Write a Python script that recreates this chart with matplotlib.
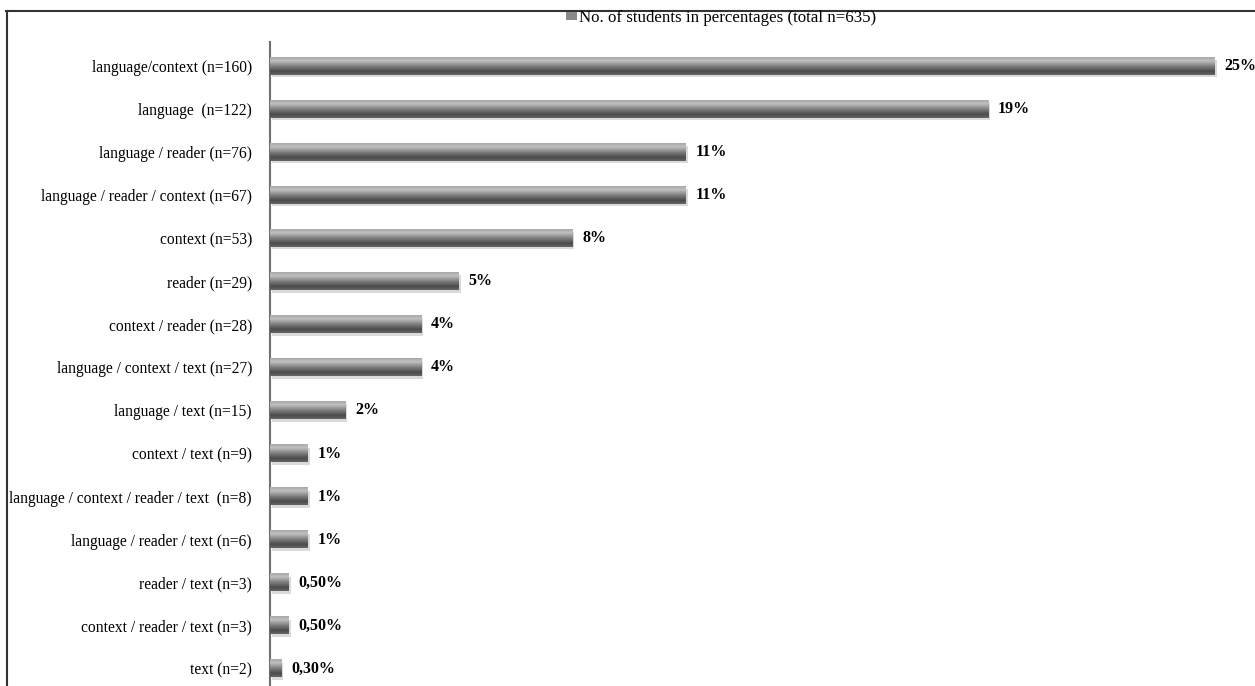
import numpy as np
import matplotlib
matplotlib.use("Agg")
import matplotlib.pyplot as plt
from matplotlib.colors import LinearSegmentedColormap
from matplotlib.lines import Line2D
from matplotlib.patches import Rectangle

categories = [
    "language/context (n=160)",
    "language  (n=122)",
    "language / reader (n=76)",
    "language / reader / context (n=67)",
    "context (n=53)",
    "reader (n=29)",
    "context / reader (n=28)",
    "language / context / text (n=27)",
    "language / text (n=15)",
    "context / text (n=9)",
    "language / context / reader / text  (n=8)",
    "language / reader / text (n=6)",
    "reader / text (n=3)",
    "context / reader / text (n=3)",
    "text (n=2)",
]
values = [25, 19, 11, 11, 8, 5, 4, 4, 2, 1, 1, 1, 0.5, 0.5, 0.3]
value_labels = ["25%", "19%", "11%", "11%", "8%", "5%", "4%", "4%", "2%",
                "1%", "1%", "1%", "0,50%", "0,50%", "0,30%"]
legend_label = "No. of students in percentages (total n=635)"

plt.rcParams['font.family'] = ['Liberation Serif', 'DejaVu Serif']

W, H = 1255, 686
fig = plt.figure(figsize=(W / 100, H / 100), dpi=100)

ax_left = 270 / W
ax_bottom = 0.0
ax_top = 42 / H
ax = fig.add_axes([ax_left, ax_bottom, 1 - ax_left, 1 - ax_top - ax_bottom])

pos = np.arange(len(categories))
bar_h = 0.40
bars = ax.barh(pos, values, height=bar_h, color="#6a6a6a", zorder=2)

cmap = LinearSegmentedColormap.from_list(
    "cyl",
    [(0.0, "#a8a8a8"), (0.2, "#c0c0c0"), (0.5, "#808080"),
     (0.8, "#4a4a4a"), (1.0, "#666666")])
grad = np.linspace(0, 1, 64).reshape(-1, 1)
for rect in bars:
    x0 = rect.get_x()
    w = rect.get_width()
    y0 = rect.get_y()
    h = rect.get_height()
    # soft shadow
    ax.add_patch(Rectangle((x0 + 0.05, y0 + 0.06), w, h, color="#dadada",
                           zorder=1, lw=0))
    ax.imshow(grad, cmap=cmap, aspect="auto", origin="upper",
              extent=(x0, x0 + w, y0 + h, y0), zorder=3, interpolation="bilinear")

for i, (v, lab) in enumerate(zip(values, value_labels)):
    ax.annotate(lab, xy=(v, i), xytext=(7, 0), textcoords="offset points",
                ha="left", va="center", fontsize=11.5, fontweight="bold",
                color="#000000")

ax.set_xlim(0, (W - 270) / 37.8)
ax.set_ylim(len(categories) - 1 + 0.40, -0.56)
ax.set_yticks(pos)
ax.set_yticklabels(categories, fontsize=11.2, color="#000000")
ax.tick_params(axis="y", length=0, pad=13)
ax.set_xticks([])
for s in ["top", "right", "bottom"]:
    ax.spines[s].set_visible(False)
ax.spines["left"].set_color("#707070")
ax.spines["left"].set_linewidth(1.5)

handle = Rectangle((0, 0), 1, 1, facecolor="#8a8a8a", edgecolor="none")
fig.legend([handle], [legend_label], loc="center", bbox_to_anchor=(721 / W, 1 - 18 / H),
           frameon=False, fontsize=12.2, handlelength=0.65, handleheight=0.35,
           handletextpad=0.15, borderpad=0)

# outer frame (top and left)
fig.add_artist(Line2D([6 / W, 1.0], [1 - 10.5 / H, 1 - 10.5 / H],
                      transform=fig.transFigure, color="#333333", lw=1.5))
fig.add_artist(Line2D([6.5 / W, 6.5 / W], [0, 1 - 10.5 / H],
                      transform=fig.transFigure, color="#333333", lw=1.5))

fig.savefig("out.png", dpi=100)
